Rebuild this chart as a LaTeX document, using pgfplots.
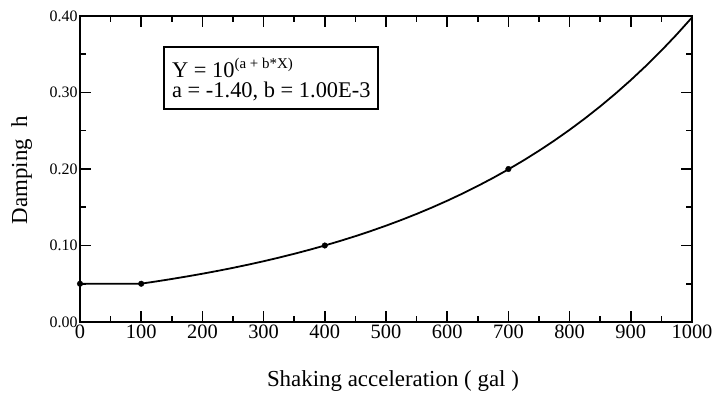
\documentclass[border=0pt]{standalone}
\usepackage{fontspec}
\setmainfont{Liberation Serif}
\usepackage{pgfplots}
\pgfplotsset{compat=1.18}
\begin{document}
\begin{tikzpicture}
\path[use as bounding box] (-80bp,-71bp) rectangle (637bp,322bp);
\begin{axis}[
  at={(0,0)}, anchor=south west,
  width=612bp, height=306bp, scale only axis,
  xmin=0, xmax=1000, ymin=0, ymax=0.4,
  xtick={0,100,...,1000}, minor x tick num=1,
  ytick={0,0.1,0.2,0.3,0.4}, minor y tick num=1,
  tick align=inside, major tick length=11bp, minor tick length=6bp,
  axis line style={line width=1.8bp},
  every tick/.style={line width=1.5bp, black},
  /pgf/number format/assume math mode=true,
  /pgf/number format/1000 sep={},
  yticklabel style={/pgf/number format/.cd, fixed, fixed zerofill, precision=2, /tikz/.cd, font=\fontsize{16}{16}\selectfont, xshift=1bp},
  xticklabel style={font=\fontsize{20.5}{20.5}\selectfont, yshift=1bp},
  scaled y ticks=false,
  xlabel={Shaking acceleration ( gal )},
  xlabel style={at={(axis description cs:0.5114,-0.2124)}, anchor=base, font=\fontsize{23}{23}\selectfont},
  ylabel={Damping\ \ h},
  ylabel style={at={(axis description cs:-0.0866,0.497)}, anchor=base, rotate=0, font=\fontsize{23}{23}\selectfont},
  clip=false,
]
\addplot[black, line width=1.8bp] coordinates {
(0,0.05) (100,0.05012) (125,0.05309) (150,0.05623) (175,0.05957) (200,0.06310)
(225,0.06683) (250,0.07079) (275,0.07499) (300,0.07943) (325,0.08414) (350,0.08913)
(375,0.09441) (400,0.10000) (425,0.10593) (450,0.11220) (475,0.11885) (500,0.12589)
(525,0.13335) (550,0.14125) (575,0.14962) (600,0.15849) (625,0.16788) (650,0.17783)
(675,0.18836) (700,0.19953) (725,0.21135) (750,0.22387) (775,0.23714) (800,0.25119)
(825,0.26607) (850,0.28184) (875,0.29854) (900,0.31623) (925,0.33497) (950,0.35481)
(975,0.37584) (1000,0.39811)
};
\addplot[only marks, mark=*, mark size=2.8bp, black] coordinates {
(0,0.05) (100,0.05) (400,0.10) (700,0.20)
};
\end{axis}
\draw[line width=1.8bp] (84bp,213bp) rectangle (298bp,275bp);
\node[anchor=base west, inner sep=0pt, font=\fontsize{22.5}{22.5}\selectfont] at (92bp,244bp) {Y = 10\raisebox{9bp}{\fontsize{15}{15}\selectfont(a + b*X)}};
\node[anchor=base west, inner sep=0pt, font=\fontsize{22.5}{22.5}\selectfont] at (92bp,224bp) {a = -1.40, b = 1.00E-3};
\end{tikzpicture}
\end{document}
